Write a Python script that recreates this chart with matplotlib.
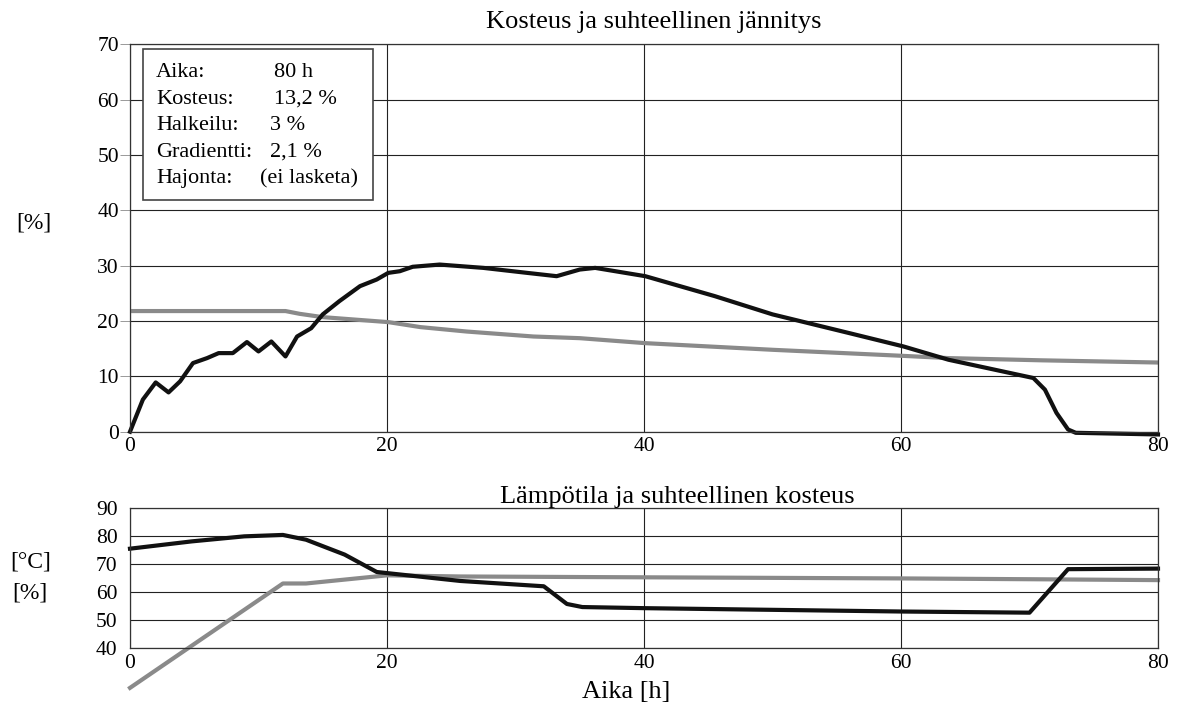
import matplotlib
matplotlib.use("Agg")
import matplotlib.pyplot as plt
from matplotlib.patches import Rectangle

plt.rcParams['font.family'] = ['Liberation Serif', 'DejaVu Serif']

# ---- Top panel data: Kosteus ja suhteellinen jännitys ----
stress_x = [0, 1.0, 2.0, 3.0, 3.9, 4.9, 6.0, 6.9, 8.0, 9.1, 10.0, 11.0, 12.1, 13.0, 14.1, 15.0,
            16.3, 17.9, 19.2, 20.1, 21.0, 22.0, 24.1, 27.5, 30.9, 33.2, 35.0, 36.2, 40.1, 45.5,
            50.0, 56.0, 60.2, 63.7, 67.9, 70.3, 71.2, 72.1, 73.0, 73.6, 80.0]
stress_y = [0, 5.8, 8.9, 7.1, 9.1, 12.4, 13.3, 14.2, 14.2, 16.2, 14.5, 16.3, 13.6, 17.2, 18.7, 21.2,
            23.6, 26.3, 27.5, 28.7, 29.0, 29.8, 30.2, 29.6, 28.7, 28.1, 29.3, 29.6, 28.1, 24.5,
            21.2, 17.8, 15.4, 13.0, 10.9, 9.7, 7.6, 3.4, 0.4, -0.2, -0.5]

moist_x = [0, 12.1, 13.2, 15.0, 18.4, 20.1, 22.6, 26.2, 31.4, 35.0, 40.1, 50.0, 60.2, 63.7, 70.9, 80.0]
moist_y = [21.8, 21.8, 21.3, 20.7, 20.1, 19.8, 18.9, 18.1, 17.2, 16.9, 16.0, 14.8, 13.7, 13.3, 12.9, 12.5]

# ---- Bottom panel data: Lämpötila ja suhteellinen kosteus ----
temp_x = [0, 4.8, 8.9, 11.9, 13.7, 16.7, 19.2, 20.0, 25.7, 32.2, 34.0, 35.2, 40.1, 60.2, 70.0, 73.0, 80.0]
temp_y = [75.5, 78.1, 79.9, 80.4, 78.7, 73.4, 67.2, 66.8, 64.0, 62.1, 55.8, 54.7, 54.3, 53.1, 52.7, 68.2, 68.4]

rh_x = [0, 11.9, 13.7, 20.0, 25.7, 35.0, 60.2, 70.6, 80.0]
rh_y = [25.9, 63.1, 63.1, 66.0, 65.6, 65.4, 64.9, 64.6, 64.3]

info_labels = ["Aika:", "Kosteus:", "Halkeilu:", "Gradientti:", "Hajonta:"]
info_values = ["80 h", "13,2 %", "3 %", "2,1 %", "(ei lasketa)"]

W, H = 1184, 710
fig = plt.figure(figsize=(W / 100, H / 100), dpi=100)

def fx(x):
    return x / W

def fy(y):
    return 1 - y / H

def px_axes(l, r, t, b):
    return fig.add_axes([l / W, 1 - b / H, (r - l) / W, (b - t) / H])

ax1 = px_axes(130, 1158, 44.3, 431.7)
ax2 = px_axes(130, 1158, 508, 648.3)

BLACK = '#111111'
GRAY = '#8a8a8a'

for ax in (ax1, ax2):
    ax.set_xlim(0, 80)
    ax.set_xticks([0, 20, 40, 60, 80])
    ax.grid(True, color='#222222', linewidth=0.8)
    ax.set_axisbelow(True)
    for s in ax.spines.values():
        s.set_color('#333333')
        s.set_linewidth(0.9)
    ax.tick_params(axis='y', length=7, width=0.7, color='#999999', labelsize=15.5, pad=1)
    ax.tick_params(axis='x', length=0, labelsize=15.5, pad=4)

ax1.set_ylim(0, 70)
ax1.set_yticks(range(0, 71, 10))
ax1.plot(moist_x, moist_y, color=GRAY, linewidth=3.0)
ax1.plot(stress_x, stress_y, color=BLACK, linewidth=3.0, solid_joinstyle='round', clip_on=False)

ax2.set_ylim(40, 90)
ax2.set_yticks(range(40, 91, 10))
ax2.tick_params(axis='y', length=0, pad=9)
ax2.plot(rh_x, rh_y, color=GRAY, linewidth=3.0, clip_on=False)
ax2.plot(temp_x, temp_y, color=BLACK, linewidth=3.0, clip_on=False)

# titles and axis labels
fig.text(fx(653.5), fy(28.3), "Kosteus ja suhteellinen jännitys", fontsize=19,
         ha='center', va='baseline')
fig.text(fx(677), fy(503.3), "Lämpötila ja suhteellinen kosteus", fontsize=19,
         ha='center', va='baseline')
fig.text(fx(626), fy(698), "Aika [h]", fontsize=19, ha='center', va='baseline')
fig.text(fx(33.5), fy(223), "[%]", fontsize=17, ha='center', va='center')
fig.text(fx(31), fy(562), "[°C]", fontsize=17, ha='center', va='center')
fig.text(fx(30), fy(593), "[%]", fontsize=17, ha='center', va='center')

# info box
fig.add_artist(Rectangle((fx(142.7), fy(200)), (373.3 - 142.7) / W, (200 - 49) / H,
                         transform=fig.transFigure, facecolor='white',
                         edgecolor='#444444', linewidth=1.2, zorder=5))
baselines = [77.3, 103.8, 130.3, 156.8, 183.3]
value_x = [274, 274, 270, 270, 260]
for lab, val, yb, xv in zip(info_labels, info_values, baselines, value_x):
    fig.text(fx(156), fy(yb), lab, fontsize=16, va='baseline', zorder=6)
    fig.text(fx(xv), fy(yb), val, fontsize=16, va='baseline', zorder=6)

fig.savefig("out.png", dpi=100)
